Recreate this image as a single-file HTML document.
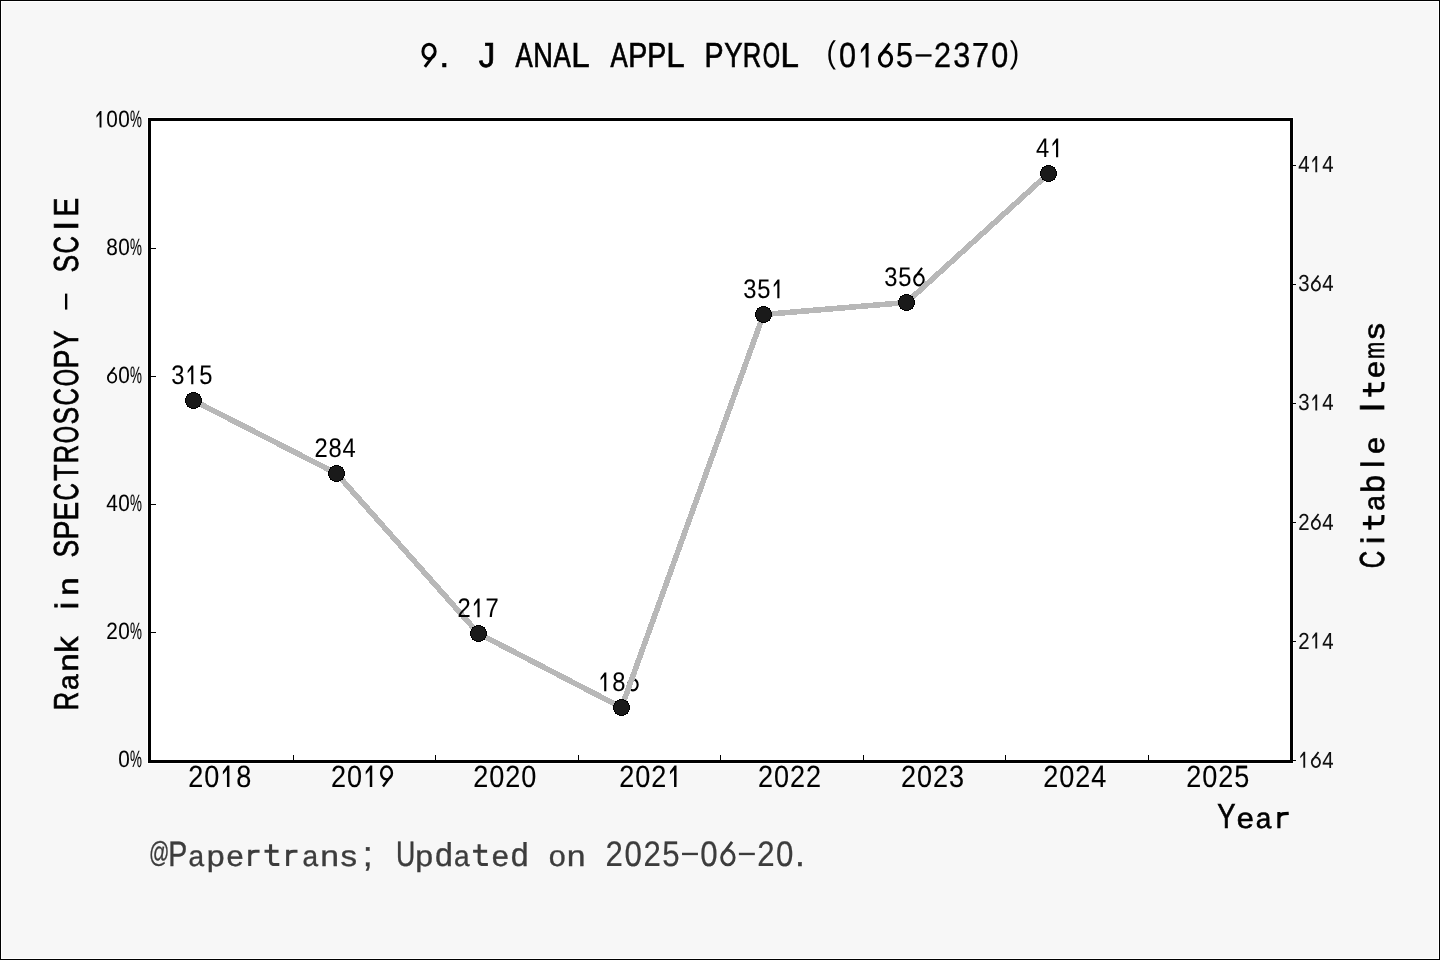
<!DOCTYPE html>
<html><head><meta charset="utf-8"><style>
html,body{margin:0;padding:0;background:#f7f7f7;overflow:hidden;width:1440px;height:960px;}
svg{display:block;will-change:transform;}
text{font-family:"Liberation Sans",sans-serif;text-rendering:geometricPrecision;}
</style></head><body>
<svg width="1440" height="960" viewBox="0 0 1440 960">
<rect x="0" y="0" width="1440" height="960" fill="#000"/>
<rect x="1" y="1" width="1438" height="958" fill="#fff"/>
<rect x="2" y="2" width="1436" height="956" fill="#f7f7f7"/>
<rect x="147" y="117" width="1147" height="647" fill="#fff"/>
<rect x="148" y="118" width="1145" height="645" fill="#000"/>
<rect x="151" y="121" width="1139" height="639" fill="#fff"/>
<rect x="151" y="632" width="5" height="1" fill="#000"/>
<rect x="151" y="504" width="5" height="1" fill="#000"/>
<rect x="151" y="376" width="5" height="1" fill="#000"/>
<rect x="151" y="248" width="5" height="1" fill="#000"/>
<rect x="293" y="755" width="1" height="5" fill="#000"/>
<rect x="435" y="755" width="1" height="5" fill="#000"/>
<rect x="578" y="755" width="1" height="5" fill="#000"/>
<rect x="720" y="755" width="1" height="5" fill="#000"/>
<rect x="863" y="755" width="1" height="5" fill="#000"/>
<rect x="1005" y="755" width="1" height="5" fill="#000"/>
<rect x="1148" y="755" width="1" height="5" fill="#000"/>
<rect x="1293" y="760" width="3" height="1" fill="#000"/>
<rect x="1293" y="641" width="3" height="1" fill="#000"/>
<rect x="1293" y="522" width="3" height="1" fill="#000"/>
<rect x="1293" y="403" width="3" height="1" fill="#000"/>
<rect x="1293" y="284" width="3" height="1" fill="#000"/>
<rect x="1293" y="165" width="3" height="1" fill="#000"/>
<text transform="translate(171.28,384.12) scale(0.880,1.000)" font-size="26.96" fill="#000" stroke="#000" stroke-width="0.08" vector-effect="non-scaling-stroke">3</text>
<path d="M193.35,384.20 L193.35,365.50 L191.58,365.50 L187.66,370.74 L187.66,373.20 L191.21,369.26 L191.21,384.20 Z" fill="#000"/>
<text transform="translate(199.34,384.12) scale(0.880,1.000)" font-size="26.96" fill="#000" stroke="#000" stroke-width="0.08" vector-effect="non-scaling-stroke">5</text>
<line x1="193.5" y1="400.5" x2="336.5" y2="473.5" stroke="#b8b8b8" stroke-width="5.6" stroke-linecap="butt" shape-rendering="crispEdges"/>
<text transform="translate(314.43,457.12) scale(0.880,1.000)" font-size="26.96" fill="#000" stroke="#000" stroke-width="0.08" vector-effect="non-scaling-stroke">2</text>
<text transform="translate(328.48,457.12) scale(0.880,1.000)" font-size="26.96" fill="#000" stroke="#000" stroke-width="0.08" vector-effect="non-scaling-stroke">8</text>
<text transform="translate(342.61,457.12) scale(0.880,1.000)" font-size="26.96" fill="#000" stroke="#000" stroke-width="0.08" vector-effect="non-scaling-stroke">4</text>
<line x1="336.5" y1="473.5" x2="478.5" y2="633.5" stroke="#b8b8b8" stroke-width="5.6" stroke-linecap="butt" shape-rendering="crispEdges"/>
<text transform="translate(457.45,617.12) scale(0.880,1.000)" font-size="26.96" fill="#000" stroke="#000" stroke-width="0.08" vector-effect="non-scaling-stroke">2</text>
<path d="M479.59,617.20 L479.59,598.50 L477.82,598.50 L473.90,603.74 L473.90,606.20 L477.45,602.26 L477.45,617.20 Z" fill="#000"/>
<text transform="translate(485.54,617.12) scale(0.880,1.000)" font-size="26.96" fill="#000" stroke="#000" stroke-width="0.08" vector-effect="non-scaling-stroke">7</text>
<line x1="478.5" y1="633.5" x2="621.5" y2="707.5" stroke="#b8b8b8" stroke-width="5.6" stroke-linecap="butt" shape-rendering="crispEdges"/>
<path d="M606.32,691.20 L606.32,672.50 L604.55,672.50 L600.63,677.74 L600.63,680.20 L604.18,676.26 L604.18,691.20 Z" fill="#000"/>
<text transform="translate(612.28,691.12) scale(0.880,1.000)" font-size="26.96" fill="#000" stroke="#000" stroke-width="0.08" vector-effect="non-scaling-stroke">8</text>
<path d="M628.18,684.75 A4.75,5.59 0 1,0 637.68,684.75 A4.75,5.59 0 1,0 628.18,684.75 Z M628.38,683.11 L636.02,672.92" fill="none" stroke="#000" stroke-width="2.09"/>
<line x1="621.5" y1="707.5" x2="763.5" y2="314.5" stroke="#b8b8b8" stroke-width="5.6" stroke-linecap="butt" shape-rendering="crispEdges"/>
<text transform="translate(743.32,298.12) scale(0.880,1.000)" font-size="26.96" fill="#000" stroke="#000" stroke-width="0.08" vector-effect="non-scaling-stroke">3</text>
<text transform="translate(757.33,298.12) scale(0.880,1.000)" font-size="26.96" fill="#000" stroke="#000" stroke-width="0.08" vector-effect="non-scaling-stroke">5</text>
<path d="M779.44,298.20 L779.44,279.50 L777.67,279.50 L773.75,284.74 L773.75,287.20 L777.30,283.26 L777.30,298.20 Z" fill="#000"/>
<line x1="763.5" y1="314.5" x2="906.5" y2="302.5" stroke="#b8b8b8" stroke-width="5.6" stroke-linecap="butt" shape-rendering="crispEdges"/>
<text transform="translate(884.30,286.12) scale(0.880,1.000)" font-size="26.96" fill="#000" stroke="#000" stroke-width="0.08" vector-effect="non-scaling-stroke">3</text>
<text transform="translate(898.31,286.12) scale(0.880,1.000)" font-size="26.96" fill="#000" stroke="#000" stroke-width="0.08" vector-effect="non-scaling-stroke">5</text>
<path d="M914.18,279.75 A4.75,5.59 0 1,0 923.68,279.75 A4.75,5.59 0 1,0 914.18,279.75 Z M914.38,278.11 L922.02,267.92" fill="none" stroke="#000" stroke-width="2.09"/>
<line x1="906.5" y1="302.5" x2="1048.5" y2="173.5" stroke="#b8b8b8" stroke-width="5.6" stroke-linecap="butt" shape-rendering="crispEdges"/>
<text transform="translate(1036.11,157.12) scale(0.880,1.000)" font-size="26.96" fill="#000" stroke="#000" stroke-width="0.08" vector-effect="non-scaling-stroke">4</text>
<path d="M1058.18,157.20 L1058.18,138.50 L1056.41,138.50 L1052.48,143.74 L1052.48,146.20 L1056.03,142.26 L1056.03,157.20 Z" fill="#000"/>
<circle cx="193.5" cy="400.5" r="8" fill="#1a1a1a" stroke="#000" stroke-width="1.1" shape-rendering="crispEdges"/>
<circle cx="336.5" cy="473.5" r="8" fill="#1a1a1a" stroke="#000" stroke-width="1.1" shape-rendering="crispEdges"/>
<circle cx="478.5" cy="633.5" r="8" fill="#1a1a1a" stroke="#000" stroke-width="1.1" shape-rendering="crispEdges"/>
<circle cx="621.5" cy="707.5" r="8" fill="#1a1a1a" stroke="#000" stroke-width="1.1" shape-rendering="crispEdges"/>
<circle cx="763.5" cy="314.5" r="8" fill="#1a1a1a" stroke="#000" stroke-width="1.1" shape-rendering="crispEdges"/>
<circle cx="906.5" cy="302.5" r="8" fill="#1a1a1a" stroke="#000" stroke-width="1.1" shape-rendering="crispEdges"/>
<circle cx="1048.5" cy="173.5" r="8" fill="#1a1a1a" stroke="#000" stroke-width="1.1" shape-rendering="crispEdges"/>
<text transform="translate(118.18,767.32) scale(0.880,1.000)" font-size="23.62" fill="#000" stroke="#000" stroke-width="0.08" vector-effect="non-scaling-stroke">0</text>
<text transform="translate(129.91,767.32) scale(0.567,1.000)" font-size="23.62" fill="#000" stroke="#000" stroke-width="0.15" vector-effect="non-scaling-stroke">%</text>
<text transform="translate(106.28,639.32) scale(0.880,1.000)" font-size="23.62" fill="#000" stroke="#000" stroke-width="0.08" vector-effect="non-scaling-stroke">2</text>
<text transform="translate(118.18,639.32) scale(0.880,1.000)" font-size="23.62" fill="#000" stroke="#000" stroke-width="0.08" vector-effect="non-scaling-stroke">0</text>
<text transform="translate(129.91,639.32) scale(0.567,1.000)" font-size="23.62" fill="#000" stroke="#000" stroke-width="0.15" vector-effect="non-scaling-stroke">%</text>
<text transform="translate(106.35,511.32) scale(0.880,1.000)" font-size="23.62" fill="#000" stroke="#000" stroke-width="0.08" vector-effect="non-scaling-stroke">4</text>
<text transform="translate(118.18,511.32) scale(0.880,1.000)" font-size="23.62" fill="#000" stroke="#000" stroke-width="0.08" vector-effect="non-scaling-stroke">0</text>
<text transform="translate(129.91,511.32) scale(0.567,1.000)" font-size="23.62" fill="#000" stroke="#000" stroke-width="0.15" vector-effect="non-scaling-stroke">%</text>
<path d="M107.90,377.74 A4.16,4.90 0 1,0 116.22,377.74 A4.16,4.90 0 1,0 107.90,377.74 Z M108.08,376.31 L114.68,367.37" fill="none" stroke="#000" stroke-width="1.84"/>
<text transform="translate(118.18,383.32) scale(0.880,1.000)" font-size="23.62" fill="#000" stroke="#000" stroke-width="0.08" vector-effect="non-scaling-stroke">0</text>
<text transform="translate(129.91,383.32) scale(0.567,1.000)" font-size="23.62" fill="#000" stroke="#000" stroke-width="0.15" vector-effect="non-scaling-stroke">%</text>
<text transform="translate(106.28,255.33) scale(0.880,1.000)" font-size="23.62" fill="#000" stroke="#000" stroke-width="0.08" vector-effect="non-scaling-stroke">8</text>
<text transform="translate(118.18,255.33) scale(0.880,1.000)" font-size="23.62" fill="#000" stroke="#000" stroke-width="0.08" vector-effect="non-scaling-stroke">0</text>
<text transform="translate(129.91,255.33) scale(0.567,1.000)" font-size="23.62" fill="#000" stroke="#000" stroke-width="0.15" vector-effect="non-scaling-stroke">%</text>
<path d="M101.46,127.40 L101.46,111.00 L99.90,111.00 L96.46,115.59 L96.46,117.76 L99.57,114.31 L99.57,127.40 Z" fill="#000"/>
<text transform="translate(106.28,127.33) scale(0.880,1.000)" font-size="23.62" fill="#000" stroke="#000" stroke-width="0.08" vector-effect="non-scaling-stroke">0</text>
<text transform="translate(118.18,127.33) scale(0.880,1.000)" font-size="23.62" fill="#000" stroke="#000" stroke-width="0.08" vector-effect="non-scaling-stroke">0</text>
<text transform="translate(129.91,127.33) scale(0.567,1.000)" font-size="23.62" fill="#000" stroke="#000" stroke-width="0.15" vector-effect="non-scaling-stroke">%</text>
<path d="M1305.19,767.80 L1305.19,751.70 L1303.65,751.70 L1300.27,756.21 L1300.27,758.34 L1303.33,754.95 L1303.33,767.80 Z" fill="#111"/>
<path d="M1311.81,762.25 A4.09,4.81 0 1,0 1319.99,762.25 A4.09,4.81 0 1,0 1311.81,762.25 Z M1311.99,760.84 L1318.54,752.06" fill="none" stroke="#111" stroke-width="1.81"/>
<text transform="translate(1322.29,767.72) scale(0.880,1.000)" font-size="23.18" fill="#111" stroke="#111" stroke-width="0.08" vector-effect="non-scaling-stroke">4</text>
<text transform="translate(1298.23,648.52) scale(0.880,1.000)" font-size="23.18" fill="#111" stroke="#111" stroke-width="0.08" vector-effect="non-scaling-stroke">2</text>
<path d="M1317.19,648.60 L1317.19,632.50 L1315.65,632.50 L1312.27,637.01 L1312.27,639.14 L1315.33,635.75 L1315.33,648.60 Z" fill="#111"/>
<text transform="translate(1322.29,648.52) scale(0.880,1.000)" font-size="23.18" fill="#111" stroke="#111" stroke-width="0.08" vector-effect="non-scaling-stroke">4</text>
<text transform="translate(1298.23,529.72) scale(0.880,1.000)" font-size="23.18" fill="#111" stroke="#111" stroke-width="0.08" vector-effect="non-scaling-stroke">2</text>
<path d="M1311.81,524.25 A4.09,4.81 0 1,0 1319.99,524.25 A4.09,4.81 0 1,0 1311.81,524.25 Z M1311.99,522.84 L1318.54,514.06" fill="none" stroke="#111" stroke-width="1.81"/>
<text transform="translate(1322.29,529.72) scale(0.880,1.000)" font-size="23.18" fill="#111" stroke="#111" stroke-width="0.08" vector-effect="non-scaling-stroke">4</text>
<text transform="translate(1298.29,410.43) scale(0.880,1.000)" font-size="23.18" fill="#111" stroke="#111" stroke-width="0.08" vector-effect="non-scaling-stroke">3</text>
<path d="M1317.19,410.50 L1317.19,394.40 L1315.65,394.40 L1312.27,398.91 L1312.27,401.04 L1315.33,397.65 L1315.33,410.50 Z" fill="#111"/>
<text transform="translate(1322.29,410.43) scale(0.880,1.000)" font-size="23.18" fill="#111" stroke="#111" stroke-width="0.08" vector-effect="non-scaling-stroke">4</text>
<text transform="translate(1298.29,291.23) scale(0.880,1.000)" font-size="23.18" fill="#111" stroke="#111" stroke-width="0.08" vector-effect="non-scaling-stroke">3</text>
<path d="M1311.81,285.75 A4.09,4.81 0 1,0 1319.99,285.75 A4.09,4.81 0 1,0 1311.81,285.75 Z M1311.99,284.34 L1318.54,275.56" fill="none" stroke="#111" stroke-width="1.81"/>
<text transform="translate(1322.29,291.23) scale(0.880,1.000)" font-size="23.18" fill="#111" stroke="#111" stroke-width="0.08" vector-effect="non-scaling-stroke">4</text>
<text transform="translate(1298.29,172.12) scale(0.880,1.000)" font-size="23.18" fill="#111" stroke="#111" stroke-width="0.08" vector-effect="non-scaling-stroke">4</text>
<path d="M1317.19,172.20 L1317.19,156.10 L1315.65,156.10 L1312.27,160.61 L1312.27,162.74 L1315.33,159.35 L1315.33,172.20 Z" fill="#111"/>
<text transform="translate(1322.29,172.12) scale(0.880,1.000)" font-size="23.18" fill="#111" stroke="#111" stroke-width="0.08" vector-effect="non-scaling-stroke">4</text>
<text transform="translate(188.18,786.88) scale(0.880,1.000)" font-size="30.74" fill="#000" stroke="#000" stroke-width="0.14" vector-effect="non-scaling-stroke">2</text>
<text transform="translate(204.18,786.88) scale(0.880,1.000)" font-size="30.74" fill="#000" stroke="#000" stroke-width="0.14" vector-effect="non-scaling-stroke">0</text>
<path d="M229.42,787.00 L229.42,765.60 L227.37,765.60 L222.87,771.59 L222.87,774.45 L226.94,769.95 L226.94,787.00 Z" fill="#000"/>
<text transform="translate(236.18,786.88) scale(0.880,1.000)" font-size="30.74" fill="#000" stroke="#000" stroke-width="0.14" vector-effect="non-scaling-stroke">8</text>
<text transform="translate(331.02,786.88) scale(0.880,1.000)" font-size="30.74" fill="#000" stroke="#000" stroke-width="0.14" vector-effect="non-scaling-stroke">2</text>
<text transform="translate(347.02,786.88) scale(0.880,1.000)" font-size="30.74" fill="#000" stroke="#000" stroke-width="0.14" vector-effect="non-scaling-stroke">0</text>
<path d="M372.26,787.00 L372.26,765.60 L370.21,765.60 L365.71,771.59 L365.71,774.45 L369.78,769.95 L369.78,787.00 Z" fill="#000"/>
<g transform="rotate(180 386.54 776.30)"><path d="M381.12,779.62 A5.42,6.39 0 1,0 391.96,779.62 A5.42,6.39 0 1,0 381.12,779.62 Z M381.35,777.75 L390.06,766.08" fill="none" stroke="#000" stroke-width="2.42"/></g>
<text transform="translate(473.32,786.88) scale(0.880,1.000)" font-size="30.74" fill="#000" stroke="#000" stroke-width="0.14" vector-effect="non-scaling-stroke">2</text>
<text transform="translate(489.32,786.88) scale(0.880,1.000)" font-size="30.74" fill="#000" stroke="#000" stroke-width="0.14" vector-effect="non-scaling-stroke">0</text>
<text transform="translate(505.32,786.88) scale(0.880,1.000)" font-size="30.74" fill="#000" stroke="#000" stroke-width="0.14" vector-effect="non-scaling-stroke">2</text>
<text transform="translate(521.32,786.88) scale(0.880,1.000)" font-size="30.74" fill="#000" stroke="#000" stroke-width="0.14" vector-effect="non-scaling-stroke">0</text>
<text transform="translate(619.28,786.88) scale(0.880,1.000)" font-size="30.74" fill="#000" stroke="#000" stroke-width="0.14" vector-effect="non-scaling-stroke">2</text>
<text transform="translate(635.28,786.88) scale(0.880,1.000)" font-size="30.74" fill="#000" stroke="#000" stroke-width="0.14" vector-effect="non-scaling-stroke">0</text>
<text transform="translate(651.28,786.88) scale(0.880,1.000)" font-size="30.74" fill="#000" stroke="#000" stroke-width="0.14" vector-effect="non-scaling-stroke">2</text>
<path d="M676.52,787.00 L676.52,765.60 L674.47,765.60 L669.97,771.59 L669.97,774.45 L674.04,769.95 L674.04,787.00 Z" fill="#000"/>
<text transform="translate(758.02,786.88) scale(0.880,1.000)" font-size="30.74" fill="#000" stroke="#000" stroke-width="0.14" vector-effect="non-scaling-stroke">2</text>
<text transform="translate(774.02,786.88) scale(0.880,1.000)" font-size="30.74" fill="#000" stroke="#000" stroke-width="0.14" vector-effect="non-scaling-stroke">0</text>
<text transform="translate(790.02,786.88) scale(0.880,1.000)" font-size="30.74" fill="#000" stroke="#000" stroke-width="0.14" vector-effect="non-scaling-stroke">2</text>
<text transform="translate(806.02,786.88) scale(0.880,1.000)" font-size="30.74" fill="#000" stroke="#000" stroke-width="0.14" vector-effect="non-scaling-stroke">2</text>
<text transform="translate(901.02,786.88) scale(0.880,1.000)" font-size="30.74" fill="#000" stroke="#000" stroke-width="0.14" vector-effect="non-scaling-stroke">2</text>
<text transform="translate(917.02,786.88) scale(0.880,1.000)" font-size="30.74" fill="#000" stroke="#000" stroke-width="0.14" vector-effect="non-scaling-stroke">0</text>
<text transform="translate(933.02,786.88) scale(0.880,1.000)" font-size="30.74" fill="#000" stroke="#000" stroke-width="0.14" vector-effect="non-scaling-stroke">2</text>
<text transform="translate(949.10,786.88) scale(0.880,1.000)" font-size="30.74" fill="#000" stroke="#000" stroke-width="0.14" vector-effect="non-scaling-stroke">3</text>
<text transform="translate(1043.14,786.88) scale(0.880,1.000)" font-size="30.74" fill="#000" stroke="#000" stroke-width="0.14" vector-effect="non-scaling-stroke">2</text>
<text transform="translate(1059.14,786.88) scale(0.880,1.000)" font-size="30.74" fill="#000" stroke="#000" stroke-width="0.14" vector-effect="non-scaling-stroke">0</text>
<text transform="translate(1075.14,786.88) scale(0.880,1.000)" font-size="30.74" fill="#000" stroke="#000" stroke-width="0.14" vector-effect="non-scaling-stroke">2</text>
<text transform="translate(1091.22,786.88) scale(0.880,1.000)" font-size="30.74" fill="#000" stroke="#000" stroke-width="0.14" vector-effect="non-scaling-stroke">4</text>
<text transform="translate(1186.16,786.88) scale(0.880,1.000)" font-size="30.74" fill="#000" stroke="#000" stroke-width="0.14" vector-effect="non-scaling-stroke">2</text>
<text transform="translate(1202.16,786.88) scale(0.880,1.000)" font-size="30.74" fill="#000" stroke="#000" stroke-width="0.14" vector-effect="non-scaling-stroke">0</text>
<text transform="translate(1218.16,786.88) scale(0.880,1.000)" font-size="30.74" fill="#000" stroke="#000" stroke-width="0.14" vector-effect="non-scaling-stroke">2</text>
<text transform="translate(1234.18,786.88) scale(0.880,1.000)" font-size="30.74" fill="#000" stroke="#000" stroke-width="0.14" vector-effect="non-scaling-stroke">5</text>
<g transform="rotate(180 429.03 55.20)"><path d="M422.89,59.01 A6.14,7.25 0 1,0 435.17,59.01 A6.14,7.25 0 1,0 422.89,59.01 Z M423.16,56.89 L433.21,43.49" fill="none" stroke="#000" stroke-width="2.97"/></g>
<text transform="translate(439.42,67.15)" font-size="34.74" fill="#000" stroke="#000" stroke-width="0.70" vector-effect="non-scaling-stroke">.</text>
<text transform="translate(478.81,67.15) scale(0.950,1.000)" font-size="34.74" fill="#000" stroke="#000" stroke-width="0.70" vector-effect="non-scaling-stroke">J</text>
<text transform="translate(515.52,67.15) scale(0.743,1.000)" font-size="34.74" fill="#000" stroke="#000" stroke-width="0.70" vector-effect="non-scaling-stroke">A</text>
<text transform="translate(533.31,67.15) scale(0.784,1.000)" font-size="34.74" fill="#000" stroke="#000" stroke-width="0.70" vector-effect="non-scaling-stroke">N</text>
<text transform="translate(553.56,67.15) scale(0.743,1.000)" font-size="34.74" fill="#000" stroke="#000" stroke-width="0.70" vector-effect="non-scaling-stroke">A</text>
<text transform="translate(571.21,67.15) scale(0.950,1.000)" font-size="34.74" fill="#000" stroke="#000" stroke-width="0.70" vector-effect="non-scaling-stroke">L</text>
<text transform="translate(610.62,67.15) scale(0.743,1.000)" font-size="34.74" fill="#000" stroke="#000" stroke-width="0.70" vector-effect="non-scaling-stroke">A</text>
<text transform="translate(628.30,67.15) scale(0.823,1.000)" font-size="34.74" fill="#000" stroke="#000" stroke-width="0.70" vector-effect="non-scaling-stroke">P</text>
<text transform="translate(647.32,67.15) scale(0.823,1.000)" font-size="34.74" fill="#000" stroke="#000" stroke-width="0.70" vector-effect="non-scaling-stroke">P</text>
<text transform="translate(666.31,67.15) scale(0.950,1.000)" font-size="34.74" fill="#000" stroke="#000" stroke-width="0.70" vector-effect="non-scaling-stroke">L</text>
<text transform="translate(704.38,67.15) scale(0.823,1.000)" font-size="34.74" fill="#000" stroke="#000" stroke-width="0.70" vector-effect="non-scaling-stroke">P</text>
<text transform="translate(724.19,67.15) scale(0.791,1.000)" font-size="34.74" fill="#000" stroke="#000" stroke-width="0.70" vector-effect="non-scaling-stroke">Y</text>
<text transform="translate(742.66,67.15) scale(0.738,1.000)" font-size="34.74" fill="#000" stroke="#000" stroke-width="0.70" vector-effect="non-scaling-stroke">R</text>
<text transform="translate(762.73,67.15) scale(0.642,1.000)" font-size="34.74" fill="#000" stroke="#000" stroke-width="0.70" vector-effect="non-scaling-stroke">O</text>
<text transform="translate(780.43,67.15) scale(0.950,1.000)" font-size="34.74" fill="#000" stroke="#000" stroke-width="0.70" vector-effect="non-scaling-stroke">L</text>
<text transform="translate(826.45,63.07) scale(0.820,0.900)" font-size="34.74" fill="#000">(</text>
<text transform="translate(838.97,67.15) scale(0.880,1.000)" font-size="34.74" fill="#000" stroke="#000" stroke-width="0.39" vector-effect="non-scaling-stroke">0</text>
<path d="M868.56,67.50 L868.56,42.90 L866.05,42.90 L860.89,49.79 L860.89,53.24 L865.56,48.15 L865.56,67.50 Z" fill="#000"/>
<path d="M879.37,59.01 A6.14,7.25 0 1,0 891.65,59.01 A6.14,7.25 0 1,0 879.37,59.01 Z M879.64,56.89 L889.69,43.49" fill="none" stroke="#000" stroke-width="2.97"/>
<text transform="translate(896.06,67.15) scale(0.880,1.000)" font-size="34.74" fill="#000" stroke="#000" stroke-width="0.39" vector-effect="non-scaling-stroke">5</text>
<rect x="915.56" y="54.28" width="15.98" height="2.34" fill="#000"/>
<text transform="translate(934.07,67.15) scale(0.880,1.000)" font-size="34.74" fill="#000" stroke="#000" stroke-width="0.39" vector-effect="non-scaling-stroke">2</text>
<text transform="translate(953.18,67.15) scale(0.880,1.000)" font-size="34.74" fill="#000" stroke="#000" stroke-width="0.39" vector-effect="non-scaling-stroke">3</text>
<text transform="translate(972.09,67.15) scale(0.880,1.000)" font-size="34.74" fill="#000" stroke="#000" stroke-width="0.39" vector-effect="non-scaling-stroke">7</text>
<text transform="translate(991.13,67.15) scale(0.880,1.000)" font-size="34.74" fill="#000" stroke="#000" stroke-width="0.39" vector-effect="non-scaling-stroke">0</text>
<text transform="translate(1009.66,63.07) scale(0.820,0.900)" font-size="34.74" fill="#000">)</text>
<g transform="translate(78.20,0) rotate(-90)">
<text transform="translate(-710.30,-0.35) scale(0.737,1.000)" font-size="34.74" fill="#000" stroke="#000" stroke-width="0.70" vector-effect="non-scaling-stroke">R</text>
<text transform="translate(-690.01,-0.35) scale(0.809,0.830)" font-size="34.74" fill="#000" stroke="#000" stroke-width="0.70" vector-effect="non-scaling-stroke">a</text>
<text transform="translate(-671.80,-0.35) scale(0.950,0.830)" font-size="34.74" fill="#000" stroke="#000" stroke-width="0.70" vector-effect="non-scaling-stroke">n</text>
<text transform="translate(-652.99,-0.35) scale(0.950,0.930)" font-size="34.74" fill="#000" stroke="#000" stroke-width="0.70" vector-effect="non-scaling-stroke">k</text>
<text transform="translate(-609.26,-0.35) scale(0.950,0.930)" font-size="34.74" fill="#000" stroke="#000" stroke-width="0.70" vector-effect="non-scaling-stroke">i</text>
<text transform="translate(-595.80,-0.35) scale(0.950,0.830)" font-size="34.74" fill="#000" stroke="#000" stroke-width="0.70" vector-effect="non-scaling-stroke">n</text>
<text transform="translate(-557.40,-0.35) scale(0.760,1.000)" font-size="34.74" fill="#000" stroke="#000" stroke-width="0.70" vector-effect="non-scaling-stroke">S</text>
<text transform="translate(-539.54,-0.35) scale(0.822,1.000)" font-size="34.74" fill="#000" stroke="#000" stroke-width="0.70" vector-effect="non-scaling-stroke">P</text>
<text transform="translate(-520.50,-0.35) scale(0.807,1.000)" font-size="34.74" fill="#000" stroke="#000" stroke-width="0.70" vector-effect="non-scaling-stroke">E</text>
<text transform="translate(-500.42,-0.35) scale(0.691,1.000)" font-size="34.74" fill="#000" stroke="#000" stroke-width="0.70" vector-effect="non-scaling-stroke">C</text>
<text transform="translate(-480.80,-0.35) scale(0.774,1.000)" font-size="34.74" fill="#000" stroke="#000" stroke-width="0.70" vector-effect="non-scaling-stroke">T</text>
<text transform="translate(-463.30,-0.35) scale(0.737,1.000)" font-size="34.74" fill="#000" stroke="#000" stroke-width="0.70" vector-effect="non-scaling-stroke">R</text>
<text transform="translate(-443.25,-0.35) scale(0.641,1.000)" font-size="34.74" fill="#000" stroke="#000" stroke-width="0.70" vector-effect="non-scaling-stroke">O</text>
<text transform="translate(-424.40,-0.35) scale(0.760,1.000)" font-size="34.74" fill="#000" stroke="#000" stroke-width="0.70" vector-effect="non-scaling-stroke">S</text>
<text transform="translate(-405.42,-0.35) scale(0.691,1.000)" font-size="34.74" fill="#000" stroke="#000" stroke-width="0.70" vector-effect="non-scaling-stroke">C</text>
<text transform="translate(-386.25,-0.35) scale(0.641,1.000)" font-size="34.74" fill="#000" stroke="#000" stroke-width="0.70" vector-effect="non-scaling-stroke">O</text>
<text transform="translate(-368.54,-0.35) scale(0.822,1.000)" font-size="34.74" fill="#000" stroke="#000" stroke-width="0.70" vector-effect="non-scaling-stroke">P</text>
<text transform="translate(-348.75,-0.35) scale(0.790,1.000)" font-size="34.74" fill="#000" stroke="#000" stroke-width="0.70" vector-effect="non-scaling-stroke">Y</text>
<rect x="-309.58" y="-13.22" width="15.96" height="2.34" fill="#000"/>
<text transform="translate(-272.40,-0.35) scale(0.760,1.000)" font-size="34.74" fill="#000" stroke="#000" stroke-width="0.70" vector-effect="non-scaling-stroke">S</text>
<text transform="translate(-253.42,-0.35) scale(0.691,1.000)" font-size="34.74" fill="#000" stroke="#000" stroke-width="0.70" vector-effect="non-scaling-stroke">C</text>
<text transform="translate(-230.43,-0.35)" font-size="34.74" fill="#000" stroke="#000" stroke-width="0.70" vector-effect="non-scaling-stroke">I</text>
<text transform="translate(-216.50,-0.35) scale(0.807,1.000)" font-size="34.74" fill="#000" stroke="#000" stroke-width="0.70" vector-effect="non-scaling-stroke">E</text>
</g>
<g transform="translate(1384.50,0) rotate(-90)">
<text transform="translate(-568.22,-0.35) scale(0.691,1.000)" font-size="34.74" fill="#000" stroke="#000" stroke-width="0.70" vector-effect="non-scaling-stroke">C</text>
<text transform="translate(-544.06,-0.35) scale(0.950,0.930)" font-size="34.74" fill="#000" stroke="#000" stroke-width="0.70" vector-effect="non-scaling-stroke">i</text>
<path d="M-523.68,-21.65 V-4.92 Q-523.68,-1.59 -518.76,-1.59 H-514.94 M-529.76,-14.65 H-515.70" fill="none" stroke="#000" stroke-width="3.18"/>
<text transform="translate(-510.81,-0.35) scale(0.809,0.830)" font-size="34.74" fill="#000" stroke="#000" stroke-width="0.70" vector-effect="non-scaling-stroke">a</text>
<text transform="translate(-492.69,-0.35) scale(0.924,0.930)" font-size="34.74" fill="#000" stroke="#000" stroke-width="0.70" vector-effect="non-scaling-stroke">b</text>
<text transform="translate(-468.07,-0.35) scale(0.950,0.930)" font-size="34.74" fill="#000" stroke="#000" stroke-width="0.70" vector-effect="non-scaling-stroke">l</text>
<text transform="translate(-453.93,-0.35) scale(0.886,0.830)" font-size="34.74" fill="#000" stroke="#000" stroke-width="0.70" vector-effect="non-scaling-stroke">e</text>
<text transform="translate(-412.23,-0.35)" font-size="34.74" fill="#000" stroke="#000" stroke-width="0.70" vector-effect="non-scaling-stroke">I</text>
<path d="M-390.68,-21.65 V-4.92 Q-390.68,-1.59 -385.76,-1.59 H-381.94 M-396.76,-14.65 H-382.70" fill="none" stroke="#000" stroke-width="3.18"/>
<text transform="translate(-377.93,-0.35) scale(0.886,0.830)" font-size="34.74" fill="#000" stroke="#000" stroke-width="0.70" vector-effect="non-scaling-stroke">e</text>
<text transform="translate(-358.99,-0.35) scale(0.593,0.830)" font-size="34.74" fill="#000" stroke="#000" stroke-width="0.70" vector-effect="non-scaling-stroke">m</text>
<text transform="translate(-339.51,-0.35) scale(0.950,0.830)" font-size="34.74" fill="#000" stroke="#000" stroke-width="0.70" vector-effect="non-scaling-stroke">s</text>
</g>
<text transform="translate(1217.26,827.85) scale(0.786,1.000)" font-size="34.74" fill="#000" stroke="#000" stroke-width="0.70" vector-effect="non-scaling-stroke">Y</text>
<text transform="translate(1236.78,827.85) scale(0.881,0.830)" font-size="34.74" fill="#000" stroke="#000" stroke-width="0.70" vector-effect="non-scaling-stroke">e</text>
<text transform="translate(1255.79,827.85) scale(0.805,0.830)" font-size="34.74" fill="#000" stroke="#000" stroke-width="0.70" vector-effect="non-scaling-stroke">a</text>
<path d="M1278.90,811.96 V828.20 M1278.90,817.87 Q1279.85,813.55 1284.95,813.55 Q1287.22,813.55 1288.73,813.44" fill="none" stroke="#000" stroke-width="3.18"/>
<text transform="translate(148.99,861.88) scale(0.566,0.820)" font-size="35.47" fill="#3c3c3c" stroke="#3c3c3c" stroke-width="0.40" vector-effect="non-scaling-stroke">@</text>
<text transform="translate(168.14,865.90) scale(0.804,1.000)" font-size="35.47" fill="#3c3c3c" stroke="#3c3c3c" stroke-width="0.40" vector-effect="non-scaling-stroke">P</text>
<text transform="translate(188.62,865.90) scale(0.791,0.830)" font-size="35.47" fill="#3c3c3c" stroke="#3c3c3c" stroke-width="0.40" vector-effect="non-scaling-stroke">a</text>
<text transform="translate(206.71,865.90) scale(0.903,0.830)" font-size="35.47" fill="#3c3c3c" stroke="#3c3c3c" stroke-width="0.40" vector-effect="non-scaling-stroke">p</text>
<text transform="translate(226.43,865.90) scale(0.866,0.830)" font-size="35.47" fill="#3c3c3c" stroke="#3c3c3c" stroke-width="0.40" vector-effect="non-scaling-stroke">e</text>
<path d="M249.73,849.73 V866.10 M249.73,855.68 Q250.68,851.26 255.80,851.26 Q258.07,851.26 259.59,851.22" fill="none" stroke="#3c3c3c" stroke-width="3.05"/>
<path d="M270.58,844.28 V861.14 Q270.58,864.57 275.54,864.57 H279.31 M264.52,851.26 H278.55" fill="none" stroke="#3c3c3c" stroke-width="3.05"/>
<path d="M287.65,849.73 V866.10 M287.65,855.68 Q288.60,851.26 293.72,851.26 Q295.99,851.26 297.51,851.22" fill="none" stroke="#3c3c3c" stroke-width="3.05"/>
<text transform="translate(302.38,865.90) scale(0.791,0.830)" font-size="35.47" fill="#3c3c3c" stroke="#3c3c3c" stroke-width="0.40" vector-effect="non-scaling-stroke">a</text>
<text transform="translate(320.35,865.90) scale(0.950,0.830)" font-size="35.47" fill="#3c3c3c" stroke="#3c3c3c" stroke-width="0.40" vector-effect="non-scaling-stroke">n</text>
<text transform="translate(340.58,865.90) scale(0.932,0.830)" font-size="35.47" fill="#3c3c3c" stroke="#3c3c3c" stroke-width="0.40" vector-effect="non-scaling-stroke">s</text>
<text transform="translate(362.73,865.90)" font-size="35.47" fill="#3c3c3c" stroke="#3c3c3c" stroke-width="0.40" vector-effect="non-scaling-stroke">;</text>
<text transform="translate(395.94,865.90) scale(0.753,1.000)" font-size="35.47" fill="#3c3c3c" stroke="#3c3c3c" stroke-width="0.40" vector-effect="non-scaling-stroke">U</text>
<text transform="translate(415.27,865.90) scale(0.903,0.830)" font-size="35.47" fill="#3c3c3c" stroke="#3c3c3c" stroke-width="0.40" vector-effect="non-scaling-stroke">p</text>
<text transform="translate(434.95,865.90) scale(0.903,0.930)" font-size="35.47" fill="#3c3c3c" stroke="#3c3c3c" stroke-width="0.40" vector-effect="non-scaling-stroke">d</text>
<text transform="translate(454.06,865.90) scale(0.791,0.830)" font-size="35.47" fill="#3c3c3c" stroke="#3c3c3c" stroke-width="0.40" vector-effect="non-scaling-stroke">a</text>
<path d="M479.14,844.28 V861.14 Q479.14,864.57 484.10,864.57 H487.87 M473.08,851.26 H487.11" fill="none" stroke="#3c3c3c" stroke-width="3.05"/>
<text transform="translate(491.87,865.90) scale(0.866,0.830)" font-size="35.47" fill="#3c3c3c" stroke="#3c3c3c" stroke-width="0.40" vector-effect="non-scaling-stroke">e</text>
<text transform="translate(510.79,865.90) scale(0.903,0.930)" font-size="35.47" fill="#3c3c3c" stroke="#3c3c3c" stroke-width="0.40" vector-effect="non-scaling-stroke">d</text>
<text transform="translate(548.77,865.90) scale(0.860,0.830)" font-size="35.47" fill="#3c3c3c" stroke="#3c3c3c" stroke-width="0.40" vector-effect="non-scaling-stroke">o</text>
<text transform="translate(566.83,865.90) scale(0.950,0.830)" font-size="35.47" fill="#3c3c3c" stroke="#3c3c3c" stroke-width="0.40" vector-effect="non-scaling-stroke">n</text>
<text transform="translate(605.46,865.90) scale(0.880,1.000)" font-size="35.47" fill="#3c3c3c" stroke="#3c3c3c" stroke-width="0.22" vector-effect="non-scaling-stroke">2</text>
<text transform="translate(624.42,865.90) scale(0.880,1.000)" font-size="35.47" fill="#3c3c3c" stroke="#3c3c3c" stroke-width="0.22" vector-effect="non-scaling-stroke">0</text>
<text transform="translate(643.38,865.90) scale(0.880,1.000)" font-size="35.47" fill="#3c3c3c" stroke="#3c3c3c" stroke-width="0.22" vector-effect="non-scaling-stroke">2</text>
<text transform="translate(662.37,865.90) scale(0.880,1.000)" font-size="35.47" fill="#3c3c3c" stroke="#3c3c3c" stroke-width="0.22" vector-effect="non-scaling-stroke">5</text>
<rect x="682.02" y="852.77" width="15.93" height="2.36" fill="#3c3c3c"/>
<text transform="translate(700.26,865.90) scale(0.880,1.000)" font-size="35.47" fill="#3c3c3c" stroke="#3c3c3c" stroke-width="0.22" vector-effect="non-scaling-stroke">0</text>
<path d="M721.64,857.54 A6.26,7.37 0 1,0 734.16,857.54 A6.26,7.37 0 1,0 721.64,857.54 Z M721.91,855.39 L732.07,841.87" fill="none" stroke="#3c3c3c" stroke-width="2.86"/>
<rect x="738.90" y="852.77" width="15.93" height="2.36" fill="#3c3c3c"/>
<text transform="translate(757.14,865.90) scale(0.880,1.000)" font-size="35.47" fill="#3c3c3c" stroke="#3c3c3c" stroke-width="0.22" vector-effect="non-scaling-stroke">2</text>
<text transform="translate(776.10,865.90) scale(0.880,1.000)" font-size="35.47" fill="#3c3c3c" stroke="#3c3c3c" stroke-width="0.22" vector-effect="non-scaling-stroke">0</text>
<text transform="translate(795.02,865.90)" font-size="35.47" fill="#3c3c3c" stroke="#3c3c3c" stroke-width="0.40" vector-effect="non-scaling-stroke">.</text>
</svg>
</body></html>
